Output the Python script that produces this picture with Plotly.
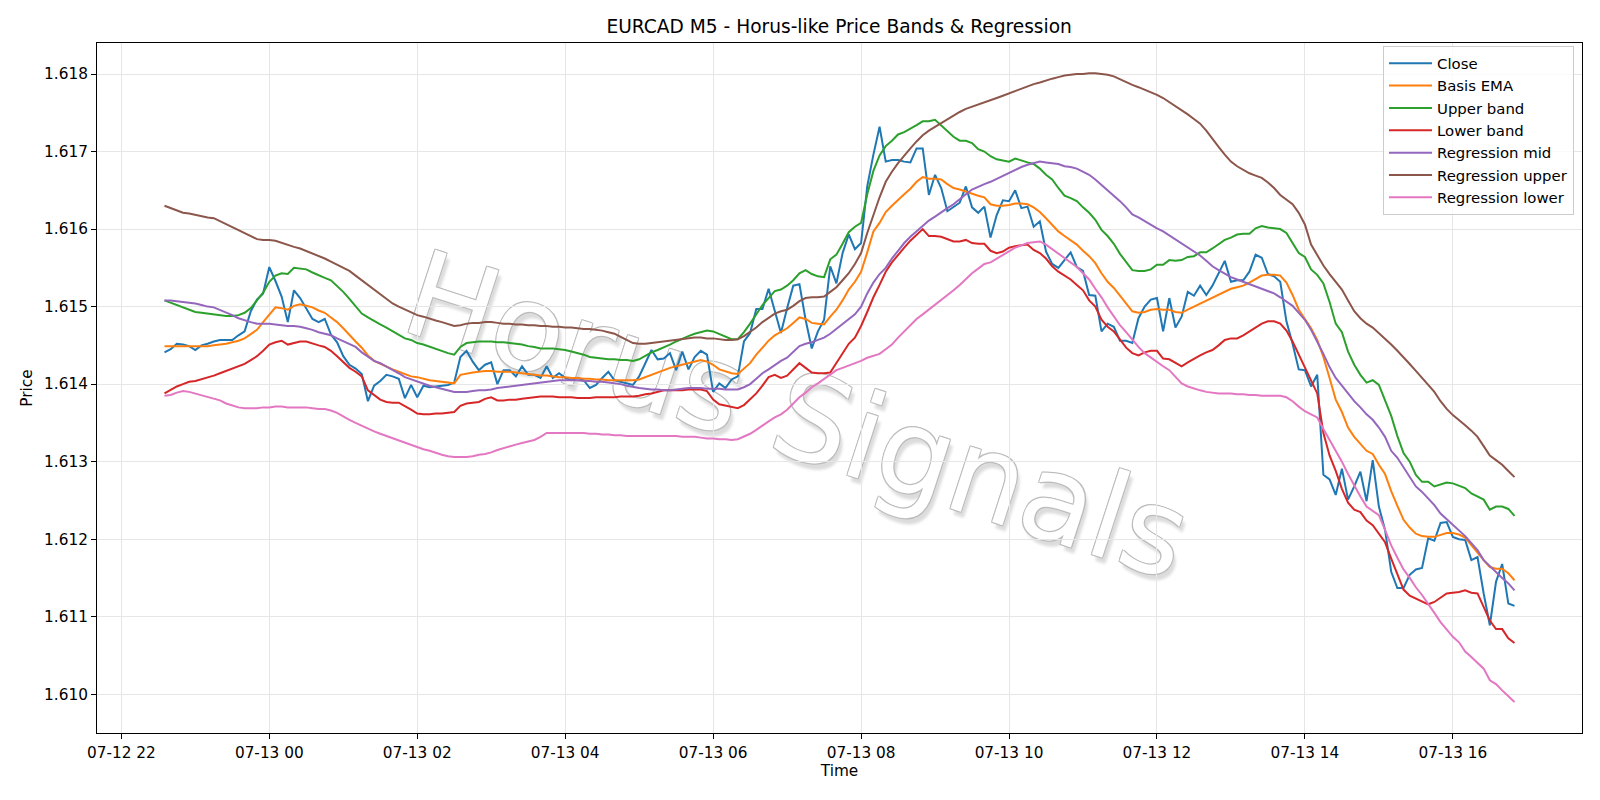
import pandas as pd
import plotly.graph_objects as go

times = pd.date_range("2025-07-12 22:35", periods=220, freq="5min")

close = [
    1.61441, 1.61445, 1.61452, 1.61451, 1.61449, 1.61444, 1.61450, 1.61452, 1.61455, 1.61457,
    1.61457, 1.61457, 1.61463, 1.61468, 1.61494, 1.61509, 1.61517, 1.61551, 1.61533, 1.61513,
    1.61480, 1.61521, 1.61511, 1.61498, 1.61484, 1.61480, 1.61484, 1.61464, 1.61454, 1.61436,
    1.61425, 1.61420, 1.61413, 1.61378, 1.61398, 1.61404, 1.61412, 1.61410, 1.61407, 1.61382,
    1.61399, 1.61383, 1.61398, 1.61396, 1.61397, 1.61398, 1.61399, 1.61402, 1.61435, 1.61443,
    1.61429, 1.61418, 1.61425, 1.61428, 1.61400, 1.61418, 1.61418, 1.61410, 1.61423, 1.61412,
    1.61412, 1.61408, 1.61423, 1.61408, 1.61414, 1.61408, 1.61405, 1.61408, 1.61405, 1.61395,
    1.61399, 1.61408, 1.61416, 1.61405, 1.61403, 1.61400, 1.61399, 1.61410, 1.61427, 1.61444,
    1.61432, 1.61433, 1.61440, 1.61418, 1.61442, 1.61419, 1.61435, 1.61443, 1.61438, 1.61390,
    1.61401, 1.61395, 1.61406, 1.61410, 1.61455, 1.61466, 1.61497, 1.61497, 1.61523, 1.61496,
    1.61466, 1.61498, 1.61527, 1.61529, 1.61483, 1.61446, 1.61468, 1.61483, 1.61552, 1.61530,
    1.61569, 1.61593, 1.61574, 1.61582, 1.61655, 1.61696, 1.61732, 1.61687, 1.61689, 1.61689,
    1.61687, 1.61686, 1.61704, 1.61704, 1.61644, 1.61670, 1.61653, 1.61623, 1.61629, 1.61634,
    1.61655, 1.61628, 1.61621, 1.61629, 1.61589, 1.61618, 1.61637, 1.61636, 1.61650, 1.61627,
    1.61629, 1.61603, 1.61610, 1.61571, 1.61555, 1.61550, 1.61560, 1.61570, 1.61551, 1.61546,
    1.61515, 1.61514, 1.61468, 1.61478, 1.61474, 1.61456, 1.61456, 1.61453, 1.61485, 1.61500,
    1.61509, 1.61511, 1.61468, 1.61511, 1.61473, 1.61487, 1.61519, 1.61514, 1.61527, 1.61515,
    1.61527, 1.61542, 1.61559, 1.61532, 1.61534, 1.61534, 1.61545, 1.61567, 1.61563, 1.61542,
    1.61539, 1.61532, 1.61481, 1.61452, 1.61419, 1.61418, 1.61397, 1.61412, 1.61283, 1.61277,
    1.61257, 1.61291, 1.61251, 1.61268, 1.61287, 1.61249, 1.61302, 1.61242, 1.61212, 1.61158,
    1.61137, 1.61137, 1.61154, 1.61161, 1.61163, 1.61201, 1.61198, 1.61221, 1.61222, 1.61203,
    1.61200, 1.61199, 1.61173, 1.61177, 1.61130, 1.61089, 1.61145, 1.61168, 1.61117, 1.61114,
]

basis_ema = [
    1.61449, 1.61449, 1.61449, 1.61449, 1.61449, 1.61449, 1.61449, 1.61449, 1.61450, 1.61451,
    1.61452, 1.61454, 1.61456, 1.61459, 1.61464, 1.61470, 1.61480, 1.61490, 1.61499, 1.61498,
    1.61496, 1.61501, 1.61503, 1.61501, 1.61499, 1.61495, 1.61492, 1.61486, 1.61480, 1.61472,
    1.61463, 1.61455, 1.61447, 1.61437, 1.61430, 1.61426, 1.61422, 1.61419, 1.61416, 1.61413,
    1.61410, 1.61409, 1.61407, 1.61405, 1.61404, 1.61403, 1.61402, 1.61401, 1.61412, 1.61414,
    1.61415, 1.61416, 1.61417, 1.61417, 1.61416, 1.61416, 1.61416, 1.61415, 1.61414, 1.61413,
    1.61412, 1.61411, 1.61411, 1.61410, 1.61409, 1.61409, 1.61408, 1.61408, 1.61407, 1.61407,
    1.61406, 1.61406, 1.61405, 1.61405, 1.61405, 1.61405, 1.61405, 1.61406, 1.61409, 1.61413,
    1.61416, 1.61419, 1.61421, 1.61423, 1.61425, 1.61427, 1.61429, 1.61431, 1.61429, 1.61425,
    1.61419, 1.61416, 1.61414, 1.61413, 1.61420, 1.61427, 1.61438, 1.61447, 1.61456, 1.61463,
    1.61468, 1.61472, 1.61479, 1.61486, 1.61484, 1.61479, 1.61478, 1.61477, 1.61487, 1.61496,
    1.61508, 1.61522, 1.61532, 1.61545, 1.61570, 1.61597, 1.61608, 1.61622, 1.61630, 1.61638,
    1.61645, 1.61652, 1.61661, 1.61667, 1.61665, 1.61665, 1.61664, 1.61658, 1.61653, 1.61651,
    1.61648, 1.61645, 1.61643, 1.61641, 1.61632, 1.61630, 1.61630, 1.61631, 1.61633, 1.61633,
    1.61632, 1.61628, 1.61622, 1.61614, 1.61605, 1.61597, 1.61591, 1.61586, 1.61580, 1.61572,
    1.61565, 1.61556, 1.61543, 1.61532, 1.61524, 1.61514, 1.61504, 1.61494, 1.61492, 1.61493,
    1.61496, 1.61497, 1.61496, 1.61496, 1.61493, 1.61492, 1.61496, 1.61500, 1.61504, 1.61508,
    1.61511, 1.61515, 1.61520, 1.61523, 1.61525, 1.61527, 1.61531, 1.61535, 1.61540, 1.61541,
    1.61541, 1.61540, 1.61531, 1.61515, 1.61496, 1.61484, 1.61472, 1.61457, 1.61435, 1.61408,
    1.61380, 1.61364, 1.61344, 1.61332, 1.61323, 1.61314, 1.61310, 1.61296, 1.61284, 1.61262,
    1.61243, 1.61225, 1.61215, 1.61207, 1.61204, 1.61203, 1.61203, 1.61205, 1.61208, 1.61208,
    1.61206, 1.61202, 1.61192, 1.61182, 1.61173, 1.61164, 1.61162, 1.61162, 1.61156, 1.61147,
]

upper_band = [
    1.61508, 1.61505, 1.61501, 1.61498, 1.61495, 1.61493, 1.61492, 1.61491, 1.61490, 1.61489,
    1.61488, 1.61488, 1.61489, 1.61492, 1.61498, 1.61508, 1.61518, 1.61532, 1.61540, 1.61543,
    1.61542, 1.61550, 1.61549, 1.61548, 1.61544, 1.61540, 1.61537, 1.61534, 1.61527, 1.61519,
    1.61510, 1.61500, 1.61491, 1.61486, 1.61481, 1.61477, 1.61473, 1.61468, 1.61463, 1.61459,
    1.61457, 1.61453, 1.61451, 1.61448, 1.61445, 1.61443, 1.61440, 1.61438, 1.61448, 1.61453,
    1.61454, 1.61455, 1.61455, 1.61455, 1.61454, 1.61454, 1.61453, 1.61452, 1.61451, 1.61449,
    1.61448, 1.61446, 1.61446, 1.61446, 1.61445, 1.61444, 1.61442, 1.61440, 1.61438, 1.61435,
    1.61434, 1.61433, 1.61432, 1.61432, 1.61431, 1.61431, 1.61430, 1.61432, 1.61437, 1.61441,
    1.61444, 1.61447, 1.61451, 1.61455, 1.61459, 1.61462, 1.61465, 1.61467, 1.61469, 1.61468,
    1.61465, 1.61462, 1.61458, 1.61458, 1.61467, 1.61478, 1.61490, 1.61502, 1.61511, 1.61520,
    1.61522, 1.61527, 1.61534, 1.61543, 1.61547, 1.61542, 1.61539, 1.61538, 1.61561, 1.61567,
    1.61581, 1.61596, 1.61603, 1.61608, 1.61645, 1.61675, 1.61695, 1.61707, 1.61714, 1.61722,
    1.61725, 1.61729, 1.61734, 1.61739, 1.61739, 1.61741, 1.61734, 1.61727, 1.61719, 1.61714,
    1.61714, 1.61711, 1.61703, 1.61700, 1.61694, 1.61690, 1.61688, 1.61687, 1.61691, 1.61688,
    1.61686, 1.61684, 1.61678, 1.61670, 1.61664, 1.61653, 1.61643, 1.61640, 1.61636, 1.61628,
    1.61621, 1.61612, 1.61599, 1.61591, 1.61581, 1.61568, 1.61557, 1.61547, 1.61546, 1.61546,
    1.61548, 1.61554, 1.61554, 1.61560, 1.61559, 1.61560, 1.61564, 1.61565, 1.61570, 1.61570,
    1.61575, 1.61580, 1.61586, 1.61589, 1.61593, 1.61594, 1.61594, 1.61601, 1.61604, 1.61602,
    1.61601, 1.61600, 1.61595, 1.61582, 1.61569, 1.61564, 1.61548, 1.61541, 1.61530, 1.61506,
    1.61478, 1.61467, 1.61442, 1.61425, 1.61412, 1.61402, 1.61405, 1.61399, 1.61380, 1.61359,
    1.61333, 1.61311, 1.61300, 1.61283, 1.61274, 1.61274, 1.61268, 1.61271, 1.61273, 1.61272,
    1.61269, 1.61266, 1.61259, 1.61255, 1.61251, 1.61238, 1.61242, 1.61242, 1.61239, 1.61230,
]

lower_band = [
    1.61388, 1.61393, 1.61397, 1.61400, 1.61403, 1.61404, 1.61406, 1.61408, 1.61411, 1.61414,
    1.61417, 1.61420, 1.61423, 1.61426, 1.61431, 1.61436, 1.61443, 1.61451, 1.61454, 1.61456,
    1.61451, 1.61453, 1.61455, 1.61455, 1.61452, 1.61450, 1.61448, 1.61443, 1.61436, 1.61428,
    1.61421, 1.61416, 1.61410, 1.61392, 1.61386, 1.61380, 1.61377, 1.61376, 1.61376, 1.61372,
    1.61367, 1.61362, 1.61361, 1.61361, 1.61362, 1.61362, 1.61363, 1.61364, 1.61372, 1.61375,
    1.61376, 1.61377, 1.61381, 1.61383, 1.61379, 1.61379, 1.61380, 1.61380, 1.61381, 1.61382,
    1.61383, 1.61384, 1.61384, 1.61384, 1.61383, 1.61383, 1.61383, 1.61382, 1.61382, 1.61382,
    1.61383, 1.61383, 1.61383, 1.61383, 1.61384, 1.61384, 1.61384, 1.61385, 1.61387, 1.61388,
    1.61390, 1.61392, 1.61392, 1.61392, 1.61392, 1.61393, 1.61393, 1.61393, 1.61391, 1.61380,
    1.61374, 1.61372, 1.61370, 1.61369, 1.61373, 1.61380, 1.61388, 1.61398, 1.61409, 1.61412,
    1.61408, 1.61411, 1.61419, 1.61427, 1.61421, 1.61415, 1.61414, 1.61414, 1.61415, 1.61427,
    1.61440, 1.61452, 1.61460, 1.61475, 1.61493, 1.61512, 1.61528, 1.61545, 1.61557, 1.61567,
    1.61576, 1.61585, 1.61593, 1.61600, 1.61591, 1.61591, 1.61590, 1.61587, 1.61584, 1.61584,
    1.61586, 1.61582, 1.61581, 1.61581, 1.61572, 1.61569, 1.61571, 1.61576, 1.61578, 1.61579,
    1.61580, 1.61573, 1.61569, 1.61562, 1.61552, 1.61545, 1.61540, 1.61535, 1.61528, 1.61521,
    1.61508, 1.61500, 1.61483, 1.61474, 1.61468, 1.61457, 1.61447, 1.61440, 1.61437, 1.61441,
    1.61443, 1.61443, 1.61433, 1.61432, 1.61427, 1.61423, 1.61428, 1.61433, 1.61437, 1.61441,
    1.61444, 1.61450, 1.61457, 1.61459, 1.61459, 1.61463, 1.61468, 1.61473, 1.61478, 1.61481,
    1.61481, 1.61478, 1.61469, 1.61455, 1.61438, 1.61420, 1.61405, 1.61388, 1.61337, 1.61308,
    1.61288, 1.61265, 1.61247, 1.61238, 1.61235, 1.61224, 1.61218, 1.61207, 1.61196, 1.61175,
    1.61155, 1.61135, 1.61127, 1.61123, 1.61119, 1.61116, 1.61119, 1.61124, 1.61130, 1.61131,
    1.61132, 1.61134, 1.61131, 1.61130, 1.61112, 1.61095, 1.61084, 1.61084, 1.61072, 1.61066,
]

reg_mid = [
    1.61508, 1.61508, 1.61507, 1.61506, 1.61505, 1.61504, 1.61502, 1.61500, 1.61499, 1.61496,
    1.61492, 1.61489, 1.61485, 1.61482, 1.61480, 1.61478, 1.61478, 1.61478, 1.61477, 1.61476,
    1.61475, 1.61475, 1.61474, 1.61472, 1.61470, 1.61467, 1.61465, 1.61463, 1.61459, 1.61455,
    1.61451, 1.61448, 1.61441, 1.61435, 1.61430, 1.61427, 1.61423, 1.61418, 1.61414, 1.61409,
    1.61406, 1.61404, 1.61401, 1.61398, 1.61396, 1.61394, 1.61392, 1.61390, 1.61390, 1.61390,
    1.61391, 1.61392, 1.61392, 1.61393, 1.61395, 1.61396, 1.61397, 1.61398, 1.61399, 1.61400,
    1.61401, 1.61402, 1.61403, 1.61404, 1.61405, 1.61405, 1.61405, 1.61405, 1.61404, 1.61404,
    1.61403, 1.61403, 1.61402, 1.61401, 1.61400, 1.61398, 1.61396, 1.61395, 1.61394, 1.61393,
    1.61393, 1.61392, 1.61392, 1.61393, 1.61394, 1.61395, 1.61395, 1.61395, 1.61394, 1.61394,
    1.61394, 1.61393, 1.61393, 1.61393, 1.61396, 1.61400, 1.61407, 1.61414, 1.61419, 1.61425,
    1.61430, 1.61434, 1.61441, 1.61449, 1.61452, 1.61454, 1.61457, 1.61460, 1.61465, 1.61471,
    1.61477, 1.61483, 1.61490, 1.61500, 1.61517, 1.61531, 1.61542, 1.61550, 1.61562, 1.61572,
    1.61582, 1.61590, 1.61597, 1.61603, 1.61611, 1.61616, 1.61622, 1.61627, 1.61632, 1.61639,
    1.61645, 1.61651, 1.61655, 1.61658, 1.61661, 1.61665, 1.61668, 1.61672, 1.61676, 1.61680,
    1.61683, 1.61685, 1.61687, 1.61686, 1.61685, 1.61684, 1.61681, 1.61680, 1.61678, 1.61674,
    1.61670, 1.61664, 1.61657, 1.61651, 1.61644, 1.61636, 1.61628, 1.61619, 1.61615, 1.61610,
    1.61606, 1.61601, 1.61597, 1.61592, 1.61586, 1.61581, 1.61576, 1.61571, 1.61566, 1.61559,
    1.61552, 1.61547, 1.61542, 1.61538, 1.61535, 1.61532, 1.61529, 1.61526, 1.61524, 1.61520,
    1.61517, 1.61512, 1.61507, 1.61501, 1.61492, 1.61483, 1.61470, 1.61455, 1.61439, 1.61422,
    1.61408, 1.61398, 1.61388, 1.61378, 1.61370, 1.61361, 1.61354, 1.61344, 1.61332, 1.61314,
    1.61305, 1.61293, 1.61281, 1.61268, 1.61261, 1.61253, 1.61244, 1.61233, 1.61226, 1.61218,
    1.61211, 1.61204, 1.61195, 1.61186, 1.61173, 1.61165, 1.61157, 1.61150, 1.61143, 1.61134,
]

reg_upper = [
    1.61630, 1.61627, 1.61624, 1.61621, 1.61620, 1.61618, 1.61617, 1.61615, 1.61614, 1.61610,
    1.61606, 1.61602, 1.61598, 1.61594, 1.61590, 1.61587, 1.61586, 1.61586, 1.61585, 1.61582,
    1.61579, 1.61577, 1.61575, 1.61572, 1.61568, 1.61565, 1.61562, 1.61558, 1.61554, 1.61551,
    1.61546, 1.61540, 1.61534, 1.61528, 1.61522, 1.61515, 1.61510, 1.61504, 1.61500, 1.61496,
    1.61492, 1.61489, 1.61487, 1.61484, 1.61482, 1.61480, 1.61477, 1.61475, 1.61476, 1.61478,
    1.61479, 1.61479, 1.61480, 1.61480, 1.61479, 1.61478, 1.61478, 1.61477, 1.61477, 1.61476,
    1.61476, 1.61475, 1.61475, 1.61474, 1.61474, 1.61473, 1.61473, 1.61472, 1.61471, 1.61471,
    1.61470, 1.61469, 1.61467, 1.61465, 1.61461, 1.61457, 1.61453, 1.61452, 1.61452, 1.61453,
    1.61454, 1.61455, 1.61456, 1.61457, 1.61458, 1.61459, 1.61460, 1.61460, 1.61459, 1.61459,
    1.61458, 1.61457, 1.61457, 1.61458, 1.61462, 1.61467, 1.61473, 1.61480, 1.61486, 1.61491,
    1.61494, 1.61496, 1.61501, 1.61507, 1.61511, 1.61512, 1.61512, 1.61513, 1.61519, 1.61525,
    1.61534, 1.61543, 1.61555, 1.61569, 1.61595, 1.61618, 1.61641, 1.61661, 1.61674, 1.61685,
    1.61695, 1.61704, 1.61713, 1.61721, 1.61727, 1.61732, 1.61737, 1.61742, 1.61747, 1.61751,
    1.61755, 1.61758, 1.61761, 1.61764, 1.61767, 1.61769, 1.61772, 1.61775, 1.61778, 1.61781,
    1.61784, 1.61787, 1.61789, 1.61792, 1.61794, 1.61796, 1.61798, 1.61799, 1.61800, 1.61800,
    1.61801, 1.61801, 1.61800, 1.61799, 1.61797, 1.61793, 1.61789, 1.61786, 1.61783, 1.61780,
    1.61777, 1.61773, 1.61769, 1.61764, 1.61759, 1.61754, 1.61748, 1.61742, 1.61736, 1.61727,
    1.61716, 1.61706, 1.61696, 1.61687, 1.61681, 1.61676, 1.61672, 1.61669, 1.61666, 1.61660,
    1.61653, 1.61644, 1.61638, 1.61632, 1.61621, 1.61606, 1.61580, 1.61566, 1.61553, 1.61542,
    1.61532, 1.61522, 1.61508, 1.61494, 1.61485, 1.61478, 1.61473, 1.61466, 1.61459, 1.61451,
    1.61443, 1.61435, 1.61426, 1.61417, 1.61408, 1.61399, 1.61390, 1.61378, 1.61368, 1.61360,
    1.61354, 1.61347, 1.61340, 1.61332, 1.61320, 1.61308, 1.61302, 1.61296, 1.61288, 1.61280,
]

reg_lower = [
    1.61385, 1.61386, 1.61389, 1.61391, 1.61390, 1.61388, 1.61386, 1.61384, 1.61382, 1.61379,
    1.61375, 1.61372, 1.61370, 1.61369, 1.61369, 1.61369, 1.61370, 1.61370, 1.61371, 1.61371,
    1.61370, 1.61370, 1.61370, 1.61370, 1.61369, 1.61368, 1.61368, 1.61366, 1.61363, 1.61358,
    1.61354, 1.61350, 1.61346, 1.61342, 1.61339, 1.61336, 1.61333, 1.61330, 1.61327, 1.61324,
    1.61321, 1.61319, 1.61316, 1.61314, 1.61311, 1.61309, 1.61307, 1.61306, 1.61306, 1.61306,
    1.61307, 1.61309, 1.61310, 1.61312, 1.61315, 1.61317, 1.61320, 1.61322, 1.61324, 1.61326,
    1.61328, 1.61332, 1.61337, 1.61337, 1.61337, 1.61337, 1.61337, 1.61337, 1.61337, 1.61336,
    1.61336, 1.61335, 1.61335, 1.61334, 1.61334, 1.61333, 1.61333, 1.61333, 1.61333, 1.61333,
    1.61333, 1.61333, 1.61333, 1.61333, 1.61332, 1.61332, 1.61332, 1.61331, 1.61330, 1.61330,
    1.61329, 1.61329, 1.61328, 1.61329, 1.61332, 1.61336, 1.61341, 1.61347, 1.61352, 1.61357,
    1.61361, 1.61367, 1.61375, 1.61383, 1.61389, 1.61396, 1.61401, 1.61407, 1.61413, 1.61418,
    1.61421, 1.61424, 1.61427, 1.61430, 1.61434, 1.61436, 1.61439, 1.61445, 1.61451, 1.61460,
    1.61468, 1.61476, 1.61484, 1.61490, 1.61496, 1.61502, 1.61508, 1.61514, 1.61521, 1.61528,
    1.61536, 1.61543, 1.61549, 1.61555, 1.61557, 1.61562, 1.61567, 1.61571, 1.61576, 1.61579,
    1.61582, 1.61583, 1.61584, 1.61580, 1.61574, 1.61568, 1.61562, 1.61556, 1.61551, 1.61543,
    1.61535, 1.61523, 1.61512, 1.61499, 1.61487, 1.61476, 1.61467, 1.61457, 1.61448, 1.61440,
    1.61434, 1.61429, 1.61423, 1.61418, 1.61409, 1.61401, 1.61397, 1.61394, 1.61392, 1.61390,
    1.61389, 1.61388, 1.61388, 1.61388, 1.61387, 1.61387, 1.61386, 1.61386, 1.61385, 1.61385,
    1.61385, 1.61385, 1.61383, 1.61378, 1.61371, 1.61365, 1.61361, 1.61357, 1.61342, 1.61328,
    1.61315, 1.61300, 1.61284, 1.61269, 1.61255, 1.61242, 1.61236, 1.61231, 1.61212, 1.61192,
    1.61176, 1.61161, 1.61150, 1.61138, 1.61128, 1.61117, 1.61105, 1.61093, 1.61084, 1.61074,
    1.61067, 1.61055, 1.61048, 1.61041, 1.61033, 1.61018, 1.61013, 1.61005, 1.60997, 1.60990,
]

series_names = ["Close", "Basis EMA", "Upper band", "Lower band",
                "Regression mid", "Regression upper", "Regression lower"]
series_values = [close, basis_ema, upper_band, lower_band, reg_mid, reg_upper, reg_lower]
series_colors = ["#1f77b4", "#ff7f0e", "#2ca02c", "#d62728", "#9467bd", "#8c564b", "#e377c2"]

FONT = "DejaVu Sans"
FS = 15.3        # tick / label text
LEG_FS = 14.9
TITLE_FS = 18.6

fig = go.Figure()
for name, vals, color in zip(series_names, series_values, series_colors):
    fig.add_trace(go.Scatter(x=times[:len(vals)], y=vals, mode="lines", name=name,
                             legendgroup=name,
                             line=dict(color=color, width=2)))

# watermark, drawn below the data
cx, cy = 0.4734, 0.4726
fig.add_shape(
    type="rect", xref="paper", yref="paper",
    x0=cx - 0.1, x1=cx + 0.1, y0=cy - 0.1, y1=cy + 0.1,
    line=dict(width=0), fillcolor="rgba(0,0,0,0)", layer="below",
    label=dict(
        text="Horus Signals", textangle=18, textposition="middle center",
        font=dict(family=FONT, size=119, color="white",
                  shadow="-1px -1px 0 #bcbcbc, 1px -1px 0 #bcbcbc, -1px 1px 0 #bcbcbc, 1px 1px 0 #bcbcbc, 5px 5px 3px #dcdcdc"),
    ),
)

axis_common = dict(
    showline=True, linecolor="black", linewidth=1.1, mirror=True,
    ticks="outside", ticklen=5, tickwidth=1.1, tickcolor="black",
    showgrid=True, gridcolor="#e6e6e6", gridwidth=1.1,
    zeroline=False,
    tickfont=dict(family=FONT, size=FS, color="black"),
)

fig.update_layout(
    width=1600, height=800,
    margin=dict(l=97, r=18, t=43, b=67),
    paper_bgcolor="white", plot_bgcolor="white",
    font=dict(family=FONT, size=FS, color="black"),
    title=dict(text="EURCAD M5 - Horus-like Price Bands & Regression",
               x=0.5245, xanchor="center", y=0.967, yanchor="middle",
               yref="container", font=dict(family=FONT, size=TITLE_FS, color="black")),
    xaxis=dict(
        type="date",
        range=["2025-07-12 21:40:15", "2025-07-13 17:44:45"],
        tick0="2025-07-12 22:00", dtick=2 * 3600 * 1000,
        tickformat="%m-%d %H",
        ticklabelstandoff=1,
        title=dict(text="Time", font=dict(family=FONT, size=FS), standoff=3),
        **axis_common,
    ),
    yaxis=dict(
        range=[1.6095, 1.6184],
        tick0=1.610, dtick=0.001, tickformat=".3f",
        title=dict(text="Price", font=dict(family=FONT, size=FS), standoff=7),
        **axis_common,
    ),
    legend=dict(
        x=0.9946, xanchor="right", y=0.9957, yanchor="top",
        bgcolor="rgba(255,255,255,0.8)", bordercolor="#cccccc", borderwidth=1,
        font=dict(family=FONT, size=LEG_FS, color="black"),
        tracegroupgap=0, itemwidth=43,
    ),
    showlegend=True,
)

fig.write_html("out.html")
